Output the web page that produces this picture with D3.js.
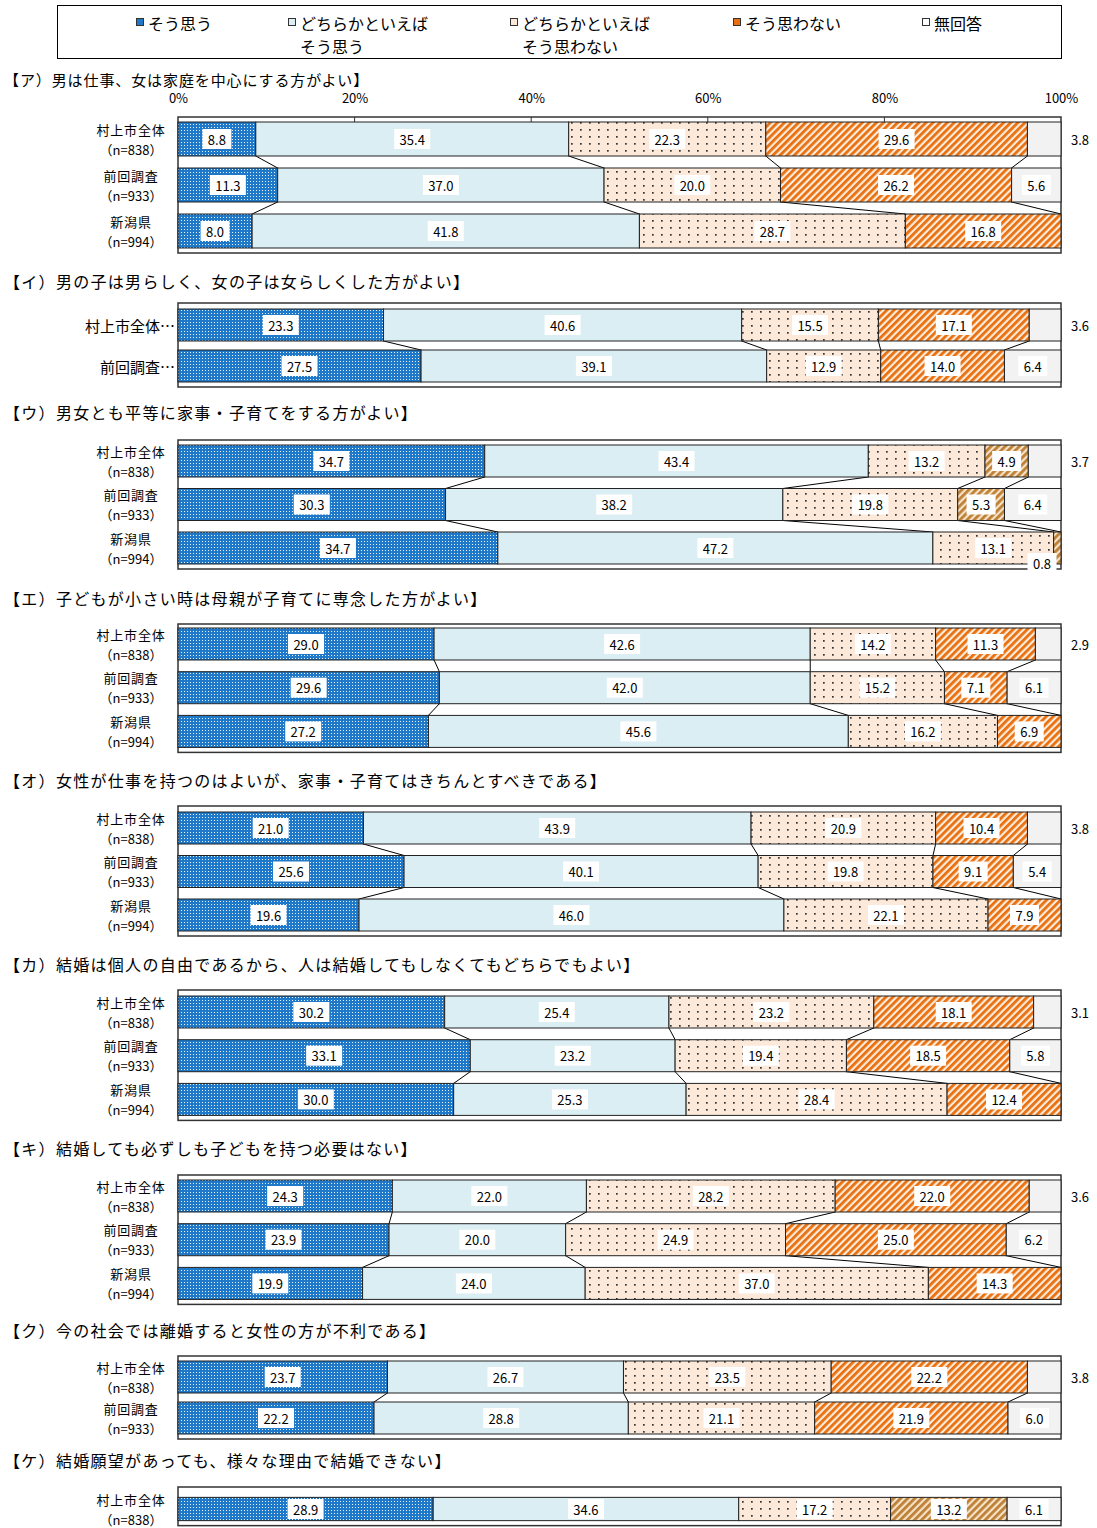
<!DOCTYPE html>
<meta charset="utf-8" />
<script src="https://d3js.org/d3.v7.js"></script>
<style>
	body { margin: 0; background: #fff; }
	svg text { font-family: "Noto Sans CJK JP", "Noto Sans", sans-serif; fill: #000; }
</style>
<div id="chart"></div>
<script>
	// answer categories (stack order)
	const categories = ["そう思う", "どちらかといえばそう思う", "どちらかといえばそう思わない", "そう思わない", "無回答"];
	const legendLines = [["そう思う"], ["どちらかといえば", "そう思う"], ["どちらかといえば", "そう思わない"], ["そう思わない"], ["無回答"]];
	const tickLabels = ["0%", "20%", "40%", "60%", "80%", "100%"];

	const rows3 = [["村上市全体", "（n=838）"], ["前回調査", "（n=933）"], ["新潟県", "（n=994）"]];
	const rows2 = [["村上市全体", "（n=838）"], ["前回調査", "（n=933）"]];
	const rowsShort = [["村上市全体…"], ["前回調査…"]];
	const rows1 = [["村上市全体", "（n=838）"]];

	const titles = [
		"【ア）男は仕事、女は家庭を中心にする方がよい】",
		"【イ）男の子は男らしく、女の子は女らしくした方がよい】",
		"【ウ）男女とも平等に家事・子育てをする方がよい】",
		"【エ）子どもが小さい時は母親が子育てに専念した方がよい】",
		"【オ）女性が仕事を持つのはよいが、家事・子育てはきちんとすべきである】",
		"【カ）結婚は個人の自由であるから、人は結婚してもしなくてもどちらでもよい】",
		"【キ）結婚しても必ずしも子どもを持つ必要はない】",
		"【ク）今の社会では離婚すると女性の方が不利である】",
		"【ケ）結婚願望があっても、様々な理由で結婚できない】"
	];

	// percentages per row: そう思う, どちらかといえばそう思う, どちらかといえばそう思わない, そう思わない, 無回答
	const valuesA = [[8.8, 35.4, 22.3, 29.6, 3.8], [11.3, 37.0, 20.0, 26.2, 5.6], [8.0, 41.8, 28.7, 16.8, 0]];
	const valuesI = [[23.3, 40.6, 15.5, 17.1, 3.6], [27.5, 39.1, 12.9, 14.0, 6.4]];
	const valuesU = [[34.7, 43.4, 13.2, 4.9, 3.7], [30.3, 38.2, 19.8, 5.3, 6.4], [34.7, 47.2, 13.1, 0.8, 0]];
	const valuesE = [[29.0, 42.6, 14.2, 11.3, 2.9], [29.6, 42.0, 15.2, 7.1, 6.1], [27.2, 45.6, 16.2, 6.9, 0]];
	const valuesO = [[21.0, 43.9, 20.9, 10.4, 3.8], [25.6, 40.1, 19.8, 9.1, 5.4], [19.6, 46.0, 22.1, 7.9, 0]];
	const valuesKa = [[30.2, 25.4, 23.2, 18.1, 3.1], [33.1, 23.2, 19.4, 18.5, 5.8], [30.0, 25.3, 28.4, 12.4, 0]];
	const valuesKi = [[24.3, 22.0, 28.2, 22.0, 3.6], [23.9, 20.0, 24.9, 25.0, 6.2], [19.9, 24.0, 37.0, 14.3, 0]];
	const valuesKu = [[23.7, 26.7, 23.5, 22.2, 3.8], [22.2, 28.8, 21.1, 21.9, 6.0]];
	const valuesKe = [[28.9, 34.6, 17.2, 13.2, 6.1]];

	const panelValues = [valuesA, valuesI, valuesU, valuesE, valuesO, valuesKa, valuesKi, valuesKu, valuesKe];
	const panelRows = [rows3, rowsShort, rows3, rows3, rows3, rows3, rows3, rows2, rows1];

	// layout of each panel (vertical placement only)
	const layout = [
		{ titleY: 79, frameTop: 117, barTop: 122, barH: 34, step: 46, axis: true, titleSize: 15, spacing: 0.9 },
		{ titleY: 281, frameTop: 303, barTop: 309, barH: 32, step: 41 },
		{ titleY: 412, frameTop: 440, barTop: 445, barH: 32, step: 43.5, tan: true },
		{ titleY: 598, frameTop: 624, barTop: 628, barH: 32, step: 43.7 },
		{ titleY: 780, frameTop: 806, barTop: 812, barH: 32, step: 43.5 },
		{ titleY: 964, frameTop: 990, barTop: 996, barH: 32, step: 43.7 },
		{ titleY: 1148, frameTop: 1175, barTop: 1180, barH: 32, step: 43.7 },
		{ titleY: 1330, frameTop: 1356, barTop: 1361, barH: 32, step: 41 },
		{ titleY: 1460, frameTop: 1487, barTop: 1493, barH: 32, step: 44, tan: true }
	];

	const W = 1097, H = 1528;
	const svg = d3.select("#chart").append("svg").attr("width", W).attr("height", H);

	// patterns
	const defs = svg.append("defs");
	const p1 = defs.append("pattern").attr("id", "blueDots").attr("patternUnits", "userSpaceOnUse").attr("width", 3).attr("height", 3);
	p1.append("rect").attr("width", 3).attr("height", 3).attr("fill", "#1f78c8");
	p1.append("rect").attr("x", 1).attr("y", 1).attr("width", 1).attr("height", 1).attr("fill", "#e6f2ff");

	const p3 = defs.append("pattern").attr("id", "peachDots").attr("patternUnits", "userSpaceOnUse").attr("width", 9).attr("height", 7);
	p3.append("rect").attr("width", 9).attr("height", 7).attr("fill", "#fde9d9");
	p3.append("rect").attr("x", 4).attr("y", 3).attr("width", 1.7).attr("height", 1.7).attr("fill", "#333");

	function stripes(id, dark, light) {
		const p = defs.append("pattern").attr("id", id).attr("patternUnits", "userSpaceOnUse")
			.attr("width", 5).attr("height", 5).attr("patternTransform", "rotate(45)");
		p.append("rect").attr("width", 5).attr("height", 5).attr("fill", light);
		p.append("rect").attr("width", 2.8).attr("height", 5).attr("fill", dark);
	}
	stripes("orangeStripes", "#e8700f", "#fdebdc");
	stripes("tanStripes", "#bd8035", "#f6e2c8");

	const fills = ["url(#blueDots)", "#daeef3", "url(#peachDots)", "url(#orangeStripes)", "#f2f2f2"];
	const legendFills = ["#1f78c8", "#daeef3", "#fde9d9", "#e8700f", "#ffffff"];

	const x = d3.scaleLinear().domain([0, 1]).range([178, 1061]);

	// legend
	svg.append("rect").attr("x", 57.5).attr("y", 5.5).attr("width", 1004).attr("height", 53)
		.attr("fill", "none").attr("stroke", "#000").attr("stroke-width", 1);
	const legendX = [136, 288, 510, 733, 922];
	const lg = svg.selectAll(".legend").data(categories).enter().append("g")
		.attr("transform", (d, i) => "translate(" + legendX[i] + ",0)");
	lg.append("rect").attr("x", 0.5).attr("y", 18.5).attr("width", 7).attr("height", 7)
		.attr("fill", (d, i) => legendFills[i]).attr("stroke", "#333").attr("stroke-width", 1);
	lg.each(function (d, i) {
		const g = d3.select(this);
		legendLines[i].forEach((t, j) => {
			g.append("text").attr("x", 12).attr("y", 23 + j * 23)
				.attr("dominant-baseline", "central").attr("font-size", 16).text(t);
		});
	});

	const stack = d3.stack().keys(d3.range(5)).value((d, k) => d[k] || 0).offset(d3.stackOffsetExpand);

	panelValues.forEach((vals, pi) => {
		const L = layout[pi];
		const rows = panelRows[pi];
		const n = vals.length;
		const g = svg.append("g");

		g.append("text").attr("x", 4).attr("y", L.titleY).attr("dominant-baseline", "central")
			.attr("font-size", L.titleSize || 16).attr("letter-spacing", L.spacing || 1.3).text(titles[pi]);

		const y = d3.scaleBand().domain(d3.range(n))
			.range([L.barTop, L.barTop + (n - 1) * L.step + L.barH])
			.paddingInner((L.step - L.barH) / L.step).paddingOuter(0);
		const frameBottom = y(n - 1) + y.bandwidth() + 5;

		// frame
		g.append("rect").attr("x", x(0)).attr("y", L.frameTop).attr("width", x(1) - x(0))
			.attr("height", frameBottom - L.frameTop).attr("fill", "#fff")
			.attr("stroke", "#333").attr("stroke-width", 1.5);

		if (L.axis) {
			const ax = d3.axisTop(x).tickValues(d3.range(0, 1.01, 0.2)).tickSize(0)
				.tickFormat((d, i) => tickLabels[i]);
			const axg = g.append("g").attr("transform", "translate(0," + (L.titleY + 19) + ")").call(ax);
			axg.select(".domain").remove();
			axg.selectAll("text").attr("font-size", 13).attr("dy", "0.35em").attr("y", 0)
				.style("font-family", "'Noto Sans CJK JP', sans-serif");
			g.selectAll(".tk").data(d3.range(0.2, 0.81, 0.2)).enter().append("line")
				.attr("x1", d => x(d)).attr("x2", d => x(d))
				.attr("y1", L.frameTop).attr("y2", L.barTop).attr("stroke", "#333");
		}

		const series = stack(vals);
		const fillOf = k => (k === 3 && L.tan) ? "url(#tanStripes)" : fills[k];

		// connecting lines
		for (let r = 0; r < n - 1; r++) {
			series.slice(0, 4).forEach(s => {
				g.append("line")
					.attr("x1", x(s[r][1])).attr("y1", y(r) + y.bandwidth())
					.attr("x2", x(s[r + 1][1])).attr("y2", y(r + 1))
					.attr("stroke", "#000").attr("stroke-width", 1);
			});
		}

		// bars
		series.forEach((s, k) => {
			g.selectAll(null).data(s.map((d, r) => ({ d, r, v: vals[r][k] || 0 })).filter(e => e.v > 0))
				.enter().append("rect")
				.attr("x", e => x(e.d[0])).attr("y", e => y(e.r))
				.attr("width", e => x(e.d[1]) - x(e.d[0])).attr("height", y.bandwidth())
				.attr("fill", fillOf(k)).attr("stroke", "#222").attr("stroke-width", 1);
		});

		// value labels
		series.forEach((s, k) => {
			s.forEach((d, r) => {
				const v = vals[r][k] || 0;
				if (v <= 0) return;
				const txt = v.toFixed(1);
				let cx = (x(d[0]) + x(d[1])) / 2, cy = y(r) + y.bandwidth() / 2;
				let boxed = true;
				if (v < 2) { cx = x(d[1]) - 19; cy = y(r) + y.bandwidth() - 1; }
				else if (k === 4 && v < 4.5) { cx = x(1) + 19; boxed = false; }
				const w = txt.length * 7 + 8;
				if (boxed) {
					g.append("rect").attr("x", cx - w / 2).attr("y", cy - 10).attr("width", w).attr("height", 20)
						.attr("fill", "#fff");
				}
				g.append("text").attr("x", cx).attr("y", cy).attr("text-anchor", "middle")
					.attr("dominant-baseline", "central").attr("font-size", 13).text(txt);
			});
		});

		// row labels
		rows.forEach((lab, r) => {
			const cy = y(r) + y.bandwidth() / 2;
			if (lab.length === 1) {
				g.append("text").attr("x", 175).attr("y", cy).attr("text-anchor", "end")
					.attr("dominant-baseline", "central").attr("font-size", 15).text(lab[0]);
			} else {
				g.append("text").attr("x", 131).attr("y", cy - 10).attr("text-anchor", "middle")
					.attr("dominant-baseline", "central").attr("font-size", 13).attr("letter-spacing", 0.8).text(lab[0]);
				g.append("text").attr("x", 131).attr("y", cy + 10).attr("text-anchor", "middle")
					.attr("dominant-baseline", "central").attr("font-size", 13).text(lab[1]);
			}
		});
	});
</script>
